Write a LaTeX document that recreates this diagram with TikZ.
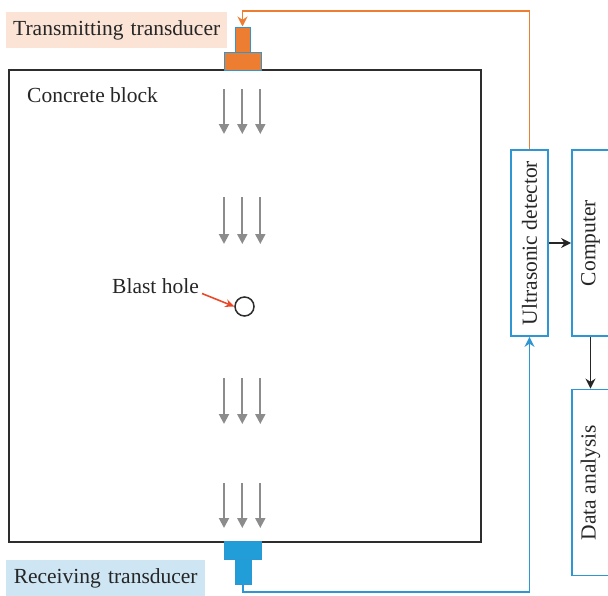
\documentclass[tikz,border=0pt]{standalone}
\usepackage{fontspec}
\setmainfont{Liberation Serif}
\usetikzlibrary{arrows.meta}
\definecolor{ultraTxFill}{RGB}{237,125,49}
\definecolor{ultraTxLabel}{RGB}{251,228,214}
\definecolor{ultraRxFill}{RGB}{33,157,216}
\definecolor{ultraRxLabel}{RGB}{206,229,243}
\definecolor{ultraBoxBorder}{RGB}{46,150,210}
\definecolor{ultraWave}{RGB}{140,140,140}
\definecolor{ultraPointer}{RGB}{234,72,40}
\definecolor{ultraBlock}{RGB}{45,45,45}
\begin{document}
\begin{tikzpicture}[x=1pt,y=-1pt,
      label/.style={font=\fontsize{21.5}{23}\selectfont, text=black!85,
        inner sep=0pt},
      tag/.style={label, minimum height=36, anchor=west},
      device/.style={draw=ultraBoxBorder, line width=1.8pt, fill=white,
        rotate=90, minimum width=186, minimum height=37, inner sep=0pt,
        font=\fontsize{21.5}{23}\selectfont, text=black!85},
      probe/.style={draw=ultraBoxBorder, line width=1pt, inner sep=0pt},
      wave/.style={draw=ultraWave, line width=2pt,
        -{Triangle[length=10,width=10]}},
      link/.style={draw=black!85, line width=1.6pt,
        -{Stealth[length=10,width=10]}}]
      \useasboundingbox (0,0) rectangle (608,595);

      % Concrete block with the blast hole.
      \draw[ultraBlock, line width=1.5pt] (9,70) rectangle (481,542);
      \node[label, anchor=west] (block) at (27,95) {Concrete block};
      \node[draw=ultraBlock, circle, line width=1.5pt, minimum size=19,
        inner sep=0pt] (hole) at (244.5,306.5) {};
      \node[label, anchor=east] (holetext) at (199,286) {Blast hole};
      \coordinate (pointer) at (202,293.5);
      \draw[ultraPointer, line width=1.6pt, -{Stealth[length=9,width=8]}]
        (pointer) -- (hole.west);

      % Waves travelling through the block.
      \foreach \top/\bottom in {89/134,197/244,378/424,483/528}{
        \foreach \x in {224,242.3,260.3}{
          \draw[wave] (\x,\top) -- (\x,\bottom);}}

      % Transmitting transducer.
      \node[probe, fill=ultraTxFill, minimum width=37, minimum height=18]
        (txbase) at (242.5,61) {};
      \node[probe, fill=ultraTxFill, minimum width=15, minimum height=25]
        (tx) at (242.5,39.5) {};
      \node[tag, fill=ultraTxLabel, minimum width=221,
        text width=221, align=center] (txtext) at (6,30)
        {Transmitting transducer};

      % Receiving transducer.
      \node[probe, fill=ultraRxFill, minimum width=37, minimum height=18]
        (rxbase) at (242.5,550.5) {};
      \node[probe, fill=ultraRxFill, minimum width=16, minimum height=25]
        (rx) at (243,571.5) {};
      \node[tag, fill=ultraRxLabel, minimum width=199,
        text width=199, align=center] (rxtext) at (6,578)
        {Receiving transducer};

      % Instruments.
      \node[device] (detector) at (529.5,243) {Ultrasonic detector};
      \node[device] (computer) at (590.5,243) {Computer};
      \node[device] (analysis) at (590.5,482.5) {Data analysis};

      % Wiring.
      \coordinate (txwire) at (242.5,11);
      \coordinate (rxwire) at (529.5,592);
      \draw[ultraTxFill, line width=1.8pt, -{Stealth[length=10,width=10]}]
        (detector.east) |- (txwire) -- (tx.north);
      \draw[ultraBoxBorder, line width=1.8pt, -{Stealth[length=10,width=10]}]
        (rx.south) |- (rxwire) -- (detector.west);
      \draw[link] (detector.south) -- (computer.north);
      \draw[link] (computer.west) -- (analysis.east);
    \end{tikzpicture}
\end{document}
